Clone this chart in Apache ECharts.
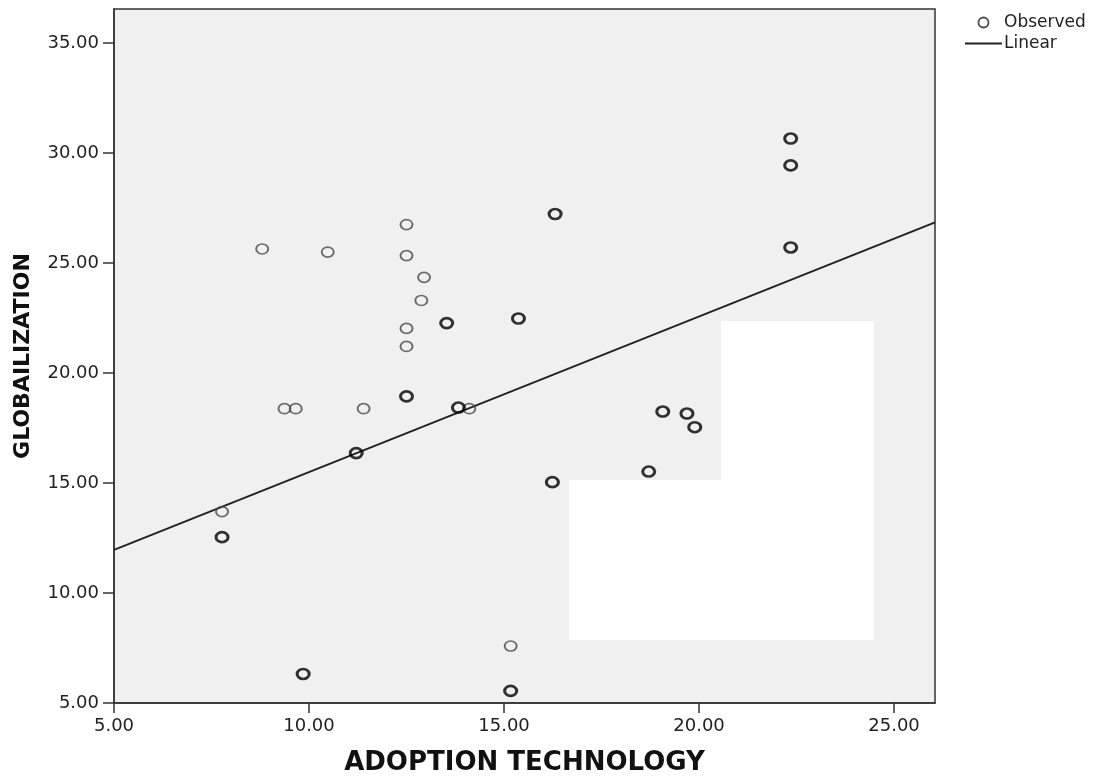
<!DOCTYPE html>
<html>
<head>
<meta charset="utf-8">
<script src="https://cdn.jsdelivr.net/npm/echarts@6/dist/echarts.min.js"></script>
<style>
html,body{margin:0;padding:0;background:#fff;}
#chart{width:1101px;height:776px;}
</style>
</head>
<body>
<div id="chart"></div>
<script>
// Observed values (single observations, drawn thin)
const singleX = [8.80, 10.48, 12.50, 12.50, 12.95, 12.88, 12.50, 12.50, 9.37, 9.66, 11.40, 14.11, 7.77, 15.17];
const singleY = [25.64, 25.50, 26.75, 25.34, 24.35, 23.30, 22.03, 21.21, 18.38, 18.38, 18.38, 18.38, 13.70, 7.59];
// Observed values (overlapping observations, drawn bold)
const multiX = [13.53, 12.50, 13.83, 15.37, 22.35, 22.35, 16.31, 22.35, 11.21, 7.77, 19.07, 19.69, 19.89, 18.71, 16.24, 9.85, 15.17];
const multiY = [22.27, 18.94, 18.43, 22.48, 30.66, 29.44, 27.23, 25.71, 16.36, 12.54, 18.25, 18.16, 17.54, 15.52, 15.04, 6.32, 5.55];
// Linear fit line endpoints
const fitX = [5.00, 26.05];
const fitY = [11.96, 26.85];
// Axis ticks
const xTicks = [5, 10, 15, 20, 25];
const yTicks = [5, 10, 15, 20, 25, 30, 35];
const xRange = [5, 26.05];
const yRange = [5, 36.55];

const obsData = [];
singleX.forEach((x, i) => obsData.push({
  value: [x, singleY[i]],
  itemStyle: { color: 'rgba(0,0,0,0)', borderColor: '#4a4a4a', borderWidth: 1.8 }
}));
multiX.forEach((x, i) => obsData.push({
  value: [x, multiY[i]],
  itemStyle: { color: 'rgba(0,0,0,0)', borderColor: '#000', borderWidth: 2.8 }
}));
const fitData = fitX.map((x, i) => [x, fitY[i]]);

const chart = echarts.init(document.getElementById('chart'), null, { renderer: 'canvas' });
const fontFam = '"DejaVu Sans", "Liberation Sans", Arial, sans-serif';

chart.setOption({
  animation: false,
  backgroundColor: '#ffffff',
  grid: {
    left: 114, right: 166, top: 9, bottom: 73,
    containLabel: false, outerBoundsMode: 'none',
    show: true, backgroundColor: '#f0f0f0', borderColor: '#333', borderWidth: 1.5
  },
  legend: {
    orient: 'vertical',
    left: 960, top: 9,
    itemWidth: 37, itemHeight: 10, itemGap: 4,
    textStyle: { fontFamily: fontFam, fontSize: 17, color: '#222', padding: [0, 0, 0, -3] },
    data: [
      { name: 'Observed', icon: 'circle', itemStyle: { color: 'rgba(0,0,0,0)', borderColor: '#222', borderWidth: 1.8 } },
      { name: 'Linear', icon: 'path://M0,0 L37,0 L37,2 L0,2 Z', itemStyle: { color: '#222' } }
    ]
  },
  xAxis: {
    type: 'value', min: xRange[0], max: xRange[1],
    name: 'ADOPTION TECHNOLOGY', nameLocation: 'middle', nameGap: 47,
    nameTextStyle: { fontFamily: fontFam, fontWeight: 'bold', fontSize: 26, color: '#111' },
    splitLine: { show: false },
    axisLine: { show: true, lineStyle: { color: '#333', width: 1.5 } },
    axisTick: { show: true, length: 10, customValues: xTicks, lineStyle: { color: '#333', width: 1.5 } },
    axisLabel: {
      customValues: xTicks, margin: 14,
      fontFamily: fontFam, fontSize: 18, color: '#222',
      formatter: v => Number(v).toFixed(2)
    }
  },
  yAxis: {
    type: 'value', min: yRange[0], max: yRange[1],
    name: 'GLOBAILIZATION', nameLocation: 'middle', nameGap: 80, nameRotate: 90,
    nameTextStyle: { fontFamily: fontFam, fontWeight: 'bold', fontSize: 22, color: '#111' },
    splitLine: { show: false },
    axisLine: { show: true, lineStyle: { color: '#333', width: 1.5 } },
    axisTick: { show: true, length: 11, customValues: yTicks, lineStyle: { color: '#333', width: 1.5 } },
    axisLabel: {
      customValues: yTicks, margin: 15,
      fontFamily: fontFam, fontSize: 18, color: '#222',
      formatter: v => Number(v).toFixed(2)
    }
  },
  series: [
    {
      name: 'Observed', type: 'scatter',
      symbol: 'circle', symbolSize: [12, 10],
      itemStyle: { color: 'rgba(0,0,0,0)', borderColor: '#222', borderWidth: 1.8 },
      data: obsData, z: 3
    },
    {
      name: 'Linear', type: 'line',
      symbol: 'none', lineStyle: { color: '#222', width: 2 },
      itemStyle: { color: '#222' },
      data: fitData, z: 2
    }
  ],
  graphic: [
    { type: 'rect', z: 100, shape: { x: 721, y: 321, width: 153, height: 160 }, style: { fill: '#ffffff' } },
    { type: 'rect', z: 100, shape: { x: 569, y: 480, width: 305, height: 160 }, style: { fill: '#ffffff' } }
  ]
});
</script>
</body>
</html>
